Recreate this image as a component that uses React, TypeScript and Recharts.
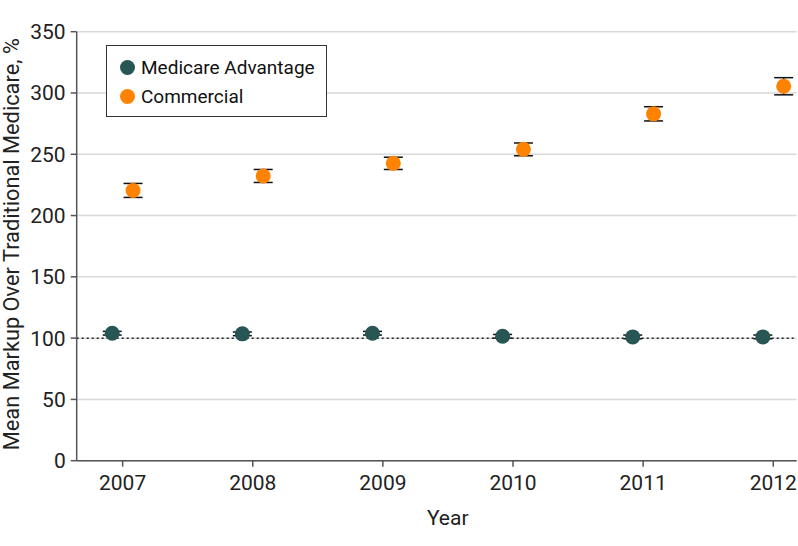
import {
  ScatterChart,
  Scatter,
  XAxis,
  YAxis,
  CartesianGrid,
  ReferenceLine,
  ErrorBar,
  Legend,
} from "recharts";

// ──────────────────────────────────────────────
// Data
// ──────────────────────────────────────────────

const YEARS = [2007, 2008, 2009, 2010, 2011, 2012];
const MA_MARKUP = [104, 103.5, 104, 101.5, 101, 101];
const MA_ERROR = [1.5, 1.5, 1.5, 1.5, 1.5, 1.5];
const COMMERCIAL_MARKUP = [220.5, 232.3, 242.6, 254, 283, 305.5];
const COMMERCIAL_ERROR = [5.7, 5.3, 5, 5.2, 5.8, 7];
const Y_TICKS = [0, 50, 100, 150, 200, 250, 300, 350];

// horizontal dodge so the two series sit either side of the year tick
const DODGE = 0.08;

const MA_COLOR = "#285654";
const COMMERCIAL_COLOR = "#ff8200";
const FONT = "Roboto, 'DejaVu Sans', sans-serif";

const maData = YEARS.map((year, i) => ({
  x: year - DODGE,
  y: MA_MARKUP[i],
  err: MA_ERROR[i],
}));

const commercialData = YEARS.map((year, i) => ({
  x: year + DODGE,
  y: COMMERCIAL_MARKUP[i],
  err: COMMERCIAL_ERROR[i],
}));

// ──────────────────────────────────────────────
// Pieces
// ──────────────────────────────────────────────

function dot(color: string) {
  return (p: any) => <circle cx={p.cx} cy={p.cy} r={7.5} fill={color} />;
}

// error bars sit behind the dots, so they get their own invisible series
const noDot = () => <g />;

function YAxisTitle({ viewBox }: any) {
  const cx = viewBox.x + 12;
  const cy = viewBox.y + viewBox.height / 2 - 2;
  return (
    <text
      x={cx}
      y={cy}
      transform={`rotate(-90, ${cx}, ${cy})`}
      textAnchor="middle"
      dominantBaseline="central"
      fontSize={21.8}
      fontFamily={FONT}
      fill="#222"
    >
      Mean Markup Over Traditional Medicare, %
    </text>
  );
}

function XAxisTitle({ viewBox }: any) {
  return (
    <text
      x={viewBox.x + viewBox.width / 2 + 11}
      y={viewBox.y + 57}
      textAnchor="middle"
      dominantBaseline="central"
      fontSize={21}
      fontFamily={FONT}
      fill="#222"
    >
      Year
    </text>
  );
}

const legendItems = [
  { label: "Medicare Advantage", color: MA_COLOR },
  { label: "Commercial", color: COMMERCIAL_COLOR },
];

function LegendBox() {
  return (
    <div
      style={{
        width: 221,
        height: 72,
        boxSizing: "border-box",
        border: "1.5px solid #333",
        background: "#fff",
        paddingTop: 7,
        paddingLeft: 13,
        fontFamily: FONT,
        fontSize: 19,
        color: "#111",
      }}
    >
      {legendItems.map((item) => (
        <div
          key={item.label}
          style={{ display: "flex", alignItems: "center", height: 29.3 }}
        >
          <span
            style={{
              display: "inline-block",
              width: 15,
              height: 15,
              borderRadius: "50%",
              background: item.color,
              marginRight: 6,
            }}
          />
          <span>{item.label}</span>
        </div>
      ))}
    </div>
  );
}

// ──────────────────────────────────────────────
// Component
// ──────────────────────────────────────────────

export default function App() {
  const tick = { fontSize: 21, fill: "#222", fontFamily: FONT };
  const errProps: any = {
    dataKey: "err",
    direction: "y",
    width: 9.5,
    stroke: "#111",
    strokeWidth: 1.5,
    zIndex: 100,
  };

  return (
    <div style={{ position: "absolute", left: 0, top: 0, background: "#fff" }}>
      <ScatterChart
        width={798}
        height={546}
        margin={{ top: 31.7, right: 1.3, bottom: 0, left: 0 }}
      >
        <CartesianGrid
          vertical={false}
          stroke="#d9d9d9"
          strokeWidth={1.5}
        />
        <XAxis
          type="number"
          dataKey="x"
          domain={[2006.647, 2012.18]}
          ticks={YEARS}
          allowDataOverflow
          height={85.3}
          tick={tick}
          tickSize={6}
          tickMargin={8}
          tickLine={{ stroke: "#555", strokeWidth: 1.5 }}
          axisLine={{ stroke: "#555", strokeWidth: 1.5 }}
          label={{ content: XAxisTitle }}
        />
        <YAxis
          type="number"
          dataKey="y"
          domain={[0, 350]}
          ticks={Y_TICKS}
          width={76.7}
          tick={tick}
          tickSize={6}
          tickMargin={5}
          tickLine={{ stroke: "#555", strokeWidth: 1.5 }}
          axisLine={{ stroke: "#555", strokeWidth: 1.5 }}
          label={{ content: YAxisTitle }}
        />
        <ReferenceLine
          y={100}
          stroke="#222"
          strokeWidth={1.5}
          strokeDasharray="2 3"
        />
        <Scatter data={maData} shape={noDot} legendType="none" isAnimationActive={false}>
          <ErrorBar {...errProps} />
        </Scatter>
        <Scatter data={commercialData} shape={noDot} legendType="none" isAnimationActive={false}>
          <ErrorBar {...errProps} />
        </Scatter>
        <Scatter
          name="Medicare Advantage"
          data={maData}
          shape={dot(MA_COLOR)}
          isAnimationActive={false}
          {...({ zIndex: 900 } as any)}
        />
        <Scatter
          name="Commercial"
          data={commercialData}
          shape={dot(COMMERCIAL_COLOR)}
          isAnimationActive={false}
          {...({ zIndex: 900 } as any)}
        />
        <Legend
          layout="vertical"
          align="center"
          verticalAlign="middle"
          content={LegendBox}
          wrapperStyle={{ top: 45, left: 106, width: 221, height: 72 }}
        />
      </ScatterChart>
    </div>
  );
}
